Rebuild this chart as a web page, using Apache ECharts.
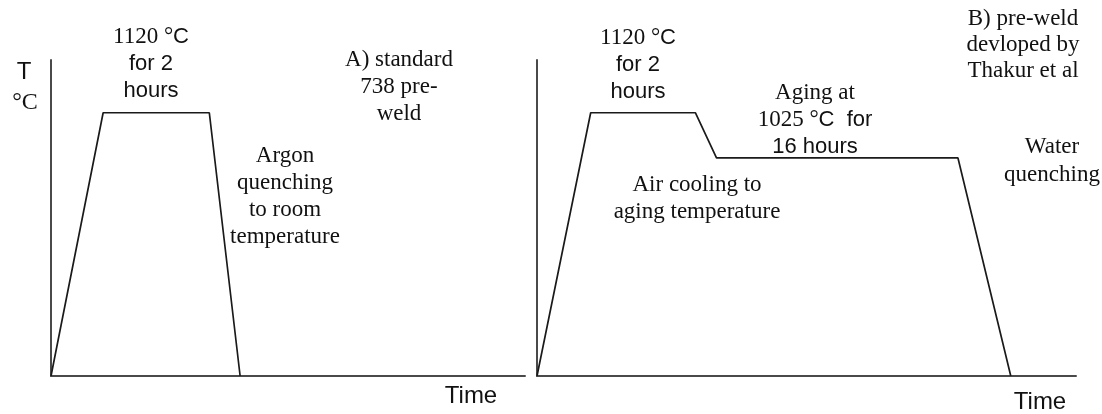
<!DOCTYPE html>
<html>
<head>
<meta charset="utf-8">
<title>Heat treatment schedules</title>
<script src="https://cdn.jsdelivr.net/npm/echarts@6/dist/echarts.min.js"></script>
<style>
  html, body { margin: 0; padding: 0; background: #fff; }
  #chart { width: 1102px; height: 414px; }
</style>
</head>
<body>
<div id="chart"></div>
<script>
// Schematic time / temperature schedules (relative units, axis span 0–100)
// A) standard 738 pre-weld treatment
const timeA = [0, 11.0, 33.4, 39.9];
const levelA = [0, 83.3, 83.3, 0];
// B) pre-weld treatment with an aging hold
const timeB = [0, 9.96, 29.4, 33.3, 78.1, 87.9];
const levelB = [0, 83.3, 83.3, 69.0, 69.0, 0];

const axisLabelX = 'Time';
const axisLabelY = ['T', '°C'];

const notesA = {
  solution: ['{r|1120 °}{s|C}', '{s|for 2}', '{s|hours}'],
  title: ['A) standard', '738 pre-', 'weld'],
  quench: ['Argon', 'quenching', 'to room', 'temperature']
};
const notesB = {
  solution: ['{r|1120 °}{s|C}', '{s|for 2}', '{s|hours}'],
  aging: ['{r|Aging at}', '{r|1025 °}{s|C  for}', '{s|16 hours}'],
  cooling: ['Air cooling to', 'aging temperature'],
  title: ['B) pre-weld', 'devloped by', 'Thakur et al'],
  quench: ['Water', 'quenching']
};

const SERIF = '"Liberation Serif", "Times New Roman", serif';
const SANS = '"Liberation Sans", Arial, sans-serif';
const INK = '#111';

const rich = {
  r: { fontFamily: SERIF, fontSize: 23, fill: INK },
  s: { fontFamily: SANS, fontSize: 22, fill: INK }
};

// Stack of centred text lines starting at (cx, cy) with a fixed line step
function block(lines, cx, cy, step, family, size, isRich) {
  return lines.map((t, i) => ({
    type: 'text',
    x: cx,
    y: cy + i * step,
    silent: true,
    style: Object.assign({
      text: t,
      align: 'center',
      verticalAlign: 'middle',
      fill: INK,
      fontFamily: family || SERIF,
      fontSize: size || 23
    }, isRich ? { rich: rich } : {})
  }));
}

function pairs(xs, ys) { return xs.map((x, i) => [x, ys[i]]); }

const axisStyle = { show: true, lineStyle: { color: '#4a4a4a', width: 2 } };

function xAx(idx) {
  return {
    gridIndex: idx, type: 'value', min: 0, max: 100,
    axisLine: axisStyle, axisTick: { show: false },
    axisLabel: { show: false }, splitLine: { show: false }
  };
}
function yAx(idx) {
  return {
    gridIndex: idx, type: 'value', min: 0, max: 100,
    axisLine: axisStyle, axisTick: { show: false },
    axisLabel: { show: false }, splitLine: { show: false }
  };
}

const lineStyle = { color: '#1a1a1a', width: 1.7 };

const chart = echarts.init(document.getElementById('chart'), null, { renderer: 'canvas' });
chart.setOption({
  animation: false,
  backgroundColor: '#fff',
  grid: [
    { left: 51, top: 60, width: 474, height: 316 },
    { left: 537, top: 60, width: 539, height: 316 }
  ],
  xAxis: [xAx(0), xAx(1)],
  yAxis: [yAx(0), yAx(1)],
  series: [
    {
      type: 'line', xAxisIndex: 0, yAxisIndex: 0,
      data: pairs(timeA, levelA), showSymbol: false, lineStyle: lineStyle
    },
    {
      type: 'line', xAxisIndex: 1, yAxisIndex: 1,
      data: pairs(timeB, levelB), showSymbol: false, lineStyle: lineStyle
    }
  ],
  graphic: [].concat(
    block([axisLabelY[0]], 24, 72, 0, SANS, 24),
    block([axisLabelY[1]], 25, 103, 0, SERIF, 24),
    block(notesA.solution, 151, 37, 27, SERIF, 23, true),
    block(notesA.title, 399, 60, 27, SERIF, 23),
    block(notesA.quench, 285, 156, 27, SERIF, 23),
    block([axisLabelX], 471, 396, 0, SANS, 24),
    block(notesB.solution, 638, 38, 27, SERIF, 23, true),
    block(notesB.aging, 815, 93, 27, SERIF, 23, true),
    block(notesB.cooling, 697, 185, 27, SERIF, 23),
    block(notesB.title, 1023, 19, 26, SERIF, 23),
    block(notesB.quench, 1052, 147, 28, SERIF, 23),
    block([axisLabelX], 1040, 402, 0, SANS, 24)
  )
});
</script>
</body>
</html>
